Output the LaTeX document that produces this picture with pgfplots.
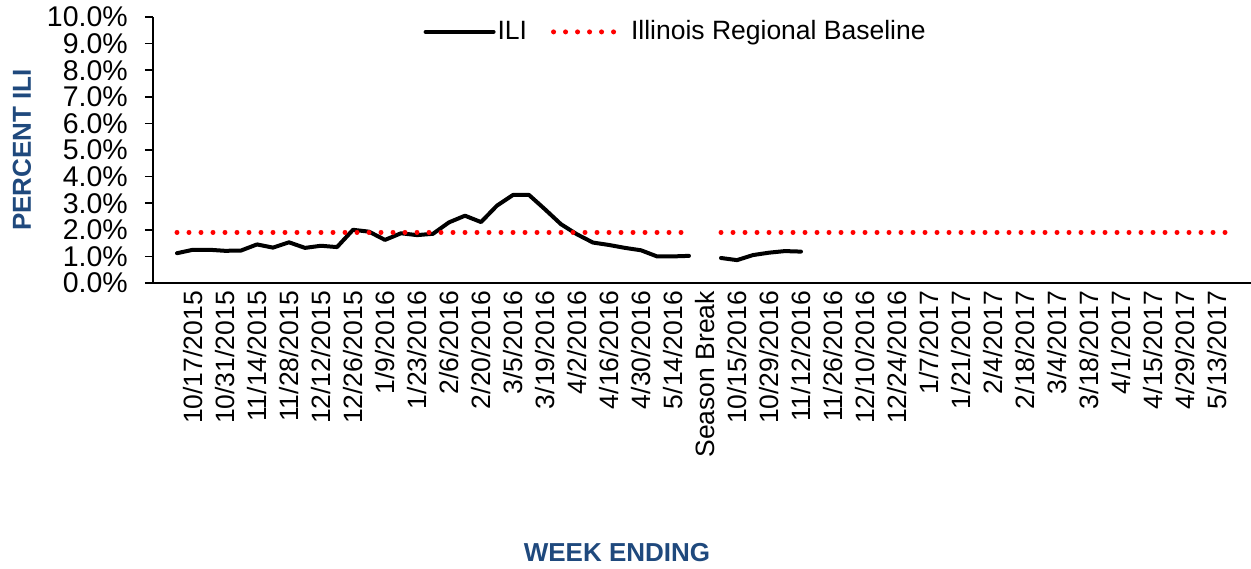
\documentclass[border=0pt]{standalone}
\usepackage{fontspec}
\setmainfont{Liberation Sans}
\usepackage{pgfplots}
\pgfplotsset{compat=1.18}
\definecolor{titleblue}{HTML}{1F497D}
\pgfplotstableread{
x y
0 1.12
1 1.25
2 1.25
3 1.21
4 1.22
5 1.45
6 1.33
7 1.53
8 1.32
9 1.40
10 1.35
11 2.00
12 1.93
13 1.62
14 1.87
15 1.80
16 1.85
17 2.28
18 2.53
19 2.29
20 2.91
21 3.31
22 3.31
23 2.77
24 2.21
25 1.83
26 1.52
27 1.43
28 1.32
29 1.23
30 1.00
31 1.00
32 1.02
33 nan
34 0.94
35 0.86
36 1.05
37 1.14
38 1.20
39 1.18
}\ilidata
\pgfplotstableread{
x y
0 1.9
32 1.9
33 nan
34 1.9
66 1.9
}\basedata
\begin{document}
\fontsize{26.5bp}{31bp}\selectfont
\begin{tikzpicture}
\useasboundingbox (-153bp,-286bp) rectangle (1098bp,283bp);
\begin{axis}[
  at={(0,0)}, anchor=south west,
  scale only axis, width=1098bp, height=266bp,
  xmin=-1.5, xmax=67.125, ymin=0, ymax=10,
  axis x line=bottom, axis y line=left,
  axis line style={-, line width=1.5bp, black},
  tick align=outside, major tick length=8bp,
  ytick={0,1,...,10},
  yticklabels={0.0\%,1.0\%,2.0\%,3.0\%,4.0\%,5.0\%,6.0\%,7.0\%,8.0\%,9.0\%,10.0\%},
  ytick style={line width=1.5bp, black},
  xtick style={draw=none},
  xtick={1,3,...,65},
  xticklabels={10/17/2015,10/31/2015,11/14/2015,11/28/2015,12/12/2015,12/26/2015,1/9/2016,1/23/2016,2/6/2016,2/20/2016,3/5/2016,3/19/2016,4/2/2016,4/16/2016,4/30/2016,5/14/2016,Season Break,10/15/2016,10/29/2016,11/12/2016,11/26/2016,12/10/2016,12/24/2016,1/7/2017,1/21/2017,2/4/2017,2/18/2017,3/4/2017,3/18/2017,4/1/2017,4/15/2017,4/29/2017,5/13/2017},
  xticklabel style={rotate=90, anchor=east, inner sep=0pt, font=\fontsize{26.5bp}{31bp}\selectfont},
  yticklabel style={anchor=east, inner sep=0pt, xshift=-17bp, font=\fontsize{28.5bp}{32bp}\selectfont},
  /pgf/number format/assume math mode=true,
  ylabel={\textbf{PERCENT ILI}},
  ylabel style={at={(axis description cs:-0.1193,0.5)}, anchor=center, rotate=0, text=titleblue, font=\fontsize{26bp}{30bp}\selectfont},
  xlabel={\textbf{WEEK ENDING}},
  xlabel style={at={(axis description cs:0.4226,-1.015)}, anchor=center, text=titleblue, font=\fontsize{26bp}{30bp}\selectfont},
  clip=false,
  unbounded coords=jump,
  legend columns=2,
  legend style={draw=none, fill=none, at={(axis description cs:0.4760,0.944)}, anchor=center,
    font=\fontsize{26.5bp}{31bp}\selectfont,
    nodes={inner sep=2bp},
    /tikz/every even column/.append style={column sep=22bp}},
  legend image code/.code={\draw[#1] (0bp,0bp) -- (68bp,0bp);},
]
\addplot[black, line width=4bp, line join=round, line cap=round] table[x=x,y=y] {\ilidata};
\addlegendentry{ILI}
\addplot[red, line width=5bp, line cap=round, dash pattern=on 0bp off 12bp] table[x=x,y=y] {\basedata};
\addlegendentry{\hspace{5bp}Illinois Regional Baseline}
\end{axis}
\end{tikzpicture}
\end{document}
